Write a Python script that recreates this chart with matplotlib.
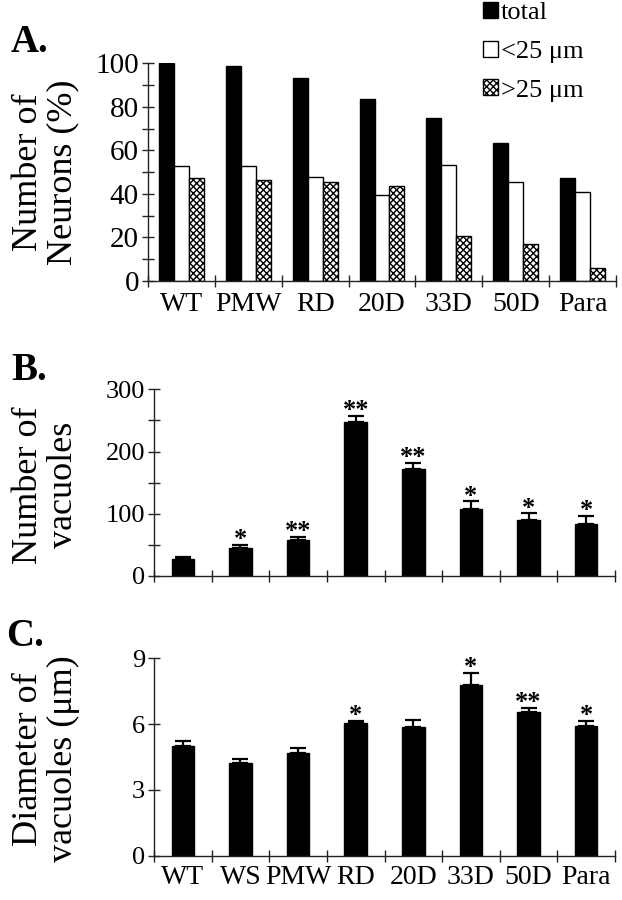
import numpy as np
import matplotlib
matplotlib.use("Agg")
import matplotlib.pyplot as plt
from matplotlib.patches import Patch
from matplotlib.ticker import FixedLocator, MultipleLocator, NullFormatter

plt.rcParams['font.family'] = ['Liberation Serif', 'DejaVu Serif']
plt.rcParams['hatch.linewidth'] = 1.0

# ---- Panel A data ----
cats_a = ["WT", "PMW", "RD", "20D", "33D", "50D", "Para"]
total = [100, 98.8, 93.4, 83.6, 74.7, 63.5, 47.2]
small = [53.0, 53.0, 47.6, 39.7, 53.4, 45.6, 40.7]
large = [47.5, 46.4, 45.6, 43.6, 20.5, 17.2, 5.8]
legend_labels = ["total", "<25 μm", ">25 μm"]

# ---- Panel B / C data ----
cats_bc = ["WT", "WS", "PMW", "RD", "20D", "33D", "50D", "Para"]
vac_num = [28, 45, 58, 247, 172, 107, 90, 84]
vac_num_err = [3, 5, 5, 10, 10, 13, 11, 13]
vac_num_sig = ["", "*", "**", "**", "**", "*", "*", "*"]
vac_diam = [5.0, 4.21, 4.70, 6.06, 5.87, 7.78, 6.57, 5.93]
vac_diam_err = [0.21, 0.20, 0.19, 0.10, 0.32, 0.55, 0.18, 0.21]
vac_diam_sig = ["", "", "", "*", "", "*", "**", "*"]

W, H = 622, 900
fig = plt.figure(figsize=(W / 100, H / 100), dpi=100)


def px_axes(left, right, top, bottom):
    return fig.add_axes([left / W, 1 - bottom / H, (right - left) / W, (bottom - top) / H])


def style_axes(ax, n, ytick_size):
    for s in ("top", "right"):
        ax.spines[s].set_visible(False)
    for s in ("left", "bottom"):
        ax.spines[s].set_linewidth(1.0)
        ax.spines[s].set_color("#222222")
    ax.set_xlim(0, n)
    ax.xaxis.set_major_locator(FixedLocator(np.arange(n) + 0.5))
    ax.xaxis.set_minor_locator(FixedLocator(np.arange(n + 1)))
    ax.tick_params(axis="x", which="major", length=0)
    ax.tick_params(axis="x", which="minor", direction="inout", length=8, width=1.0, color="#222222")
    ax.tick_params(axis="y", which="both", direction="inout", length=9, width=1.0, color="#222222",
                   labelsize=ytick_size, pad=2)


# ---------------- Panel A ----------------
axA = px_axes(148, 616, 63.3, 281)
n = len(cats_a)
x = np.arange(n) + 0.5
bw = 0.224
axA.bar(x - bw, total, bw, color="black", edgecolor="black", linewidth=1.0)
axA.bar(x, small, bw, color="white", edgecolor="black", linewidth=1.0)
axA.bar(x + bw, large, bw, color="white", edgecolor="black", linewidth=1.0, hatch="xxxxx")
style_axes(axA, n, 21)
axA.set_ylim(0, 100)
axA.yaxis.set_major_locator(MultipleLocator(20))
axA.yaxis.set_minor_locator(MultipleLocator(10))
axA.set_xticklabels(cats_a, fontsize=20)
axA.tick_params(axis="x", which="major", pad=8)

handles = [Patch(facecolor="black", edgecolor="black"),
           Patch(facecolor="white", edgecolor="black"),
           Patch(facecolor="white", edgecolor="black", hatch="xxxxx")]
fig.legend(handles, legend_labels, loc="upper left", bbox_to_anchor=(483 / W, 1 - 2 / H),
           frameon=False, fontsize=19, handlelength=0.55, handleheight=0.55, handletextpad=0.12,
           labelspacing=0.62, borderpad=0, borderaxespad=0)


# ---------------- Panels B, C ----------------
def vac_panel(top, bottom, vals, errs, sig, ylim, major, minor, show_labels, star_size):
    ax = px_axes(154, 615, top, bottom)
    m = len(cats_bc)
    xx = np.arange(m) + 0.5
    ax.bar(xx, vals, 0.39, color="black", edgecolor="black", linewidth=1.0)
    ax.errorbar(xx, vals, yerr=[np.zeros(m), errs], fmt="none", ecolor="black",
                elinewidth=1.6, capsize=6, capthick=1.6)
    style_axes(ax, m, 19)
    ax.set_ylim(*ylim)
    ax.yaxis.set_major_locator(MultipleLocator(major))
    if minor:
        ax.yaxis.set_minor_locator(MultipleLocator(minor))
    if show_labels:
        ax.set_xticklabels(cats_bc, fontsize=20)
        ax.tick_params(axis="x", which="major", pad=7)
    else:
        ax.xaxis.set_major_formatter(NullFormatter())
    for xi, v, e, s in zip(xx, vals, errs, sig):
        if s:
            ax.annotate(s, (xi, v + e), xytext=(0, -1), textcoords="offset points",
                        ha="center", va="baseline", fontsize=star_size, fontweight="bold")
    return ax


axB = vac_panel(389.3, 576, vac_num, vac_num_err, vac_num_sig, (0, 300), 100, 50, False, 19)
axC = vac_panel(658.3, 855.7, vac_diam, vac_diam_err, vac_diam_sig, (0, 9), 3, None, True, 19)

# ---- y labels and panel letters ----
ylabel_kw = dict(rotation=90, ha="center", va="center", fontsize=26, multialignment="center",
                 linespacing=1.05)
fig.text(46 / W, 1 - 172 / H, "Number of\nNeurons (%)", **ylabel_kw)
fig.text(46 / W, 1 - 485 / H, "Number of\nvacuoles", **ylabel_kw)
fig.text(46 / W, 1 - 759 / H, "Diameter of\nvacuoles (μm)", **ylabel_kw)

fig.text(11 / W, 1 - 43 / H, "A.", fontsize=28, fontweight="bold", va="center", ha="left")
fig.text(11 / W, 1 - 370 / H, "B.", fontsize=28, fontweight="bold", va="center", ha="left")
fig.text(6 / W, 1 - 637 / H, "C.", fontsize=28, fontweight="bold", va="center", ha="left")

fig.savefig("out.png", dpi=100)
